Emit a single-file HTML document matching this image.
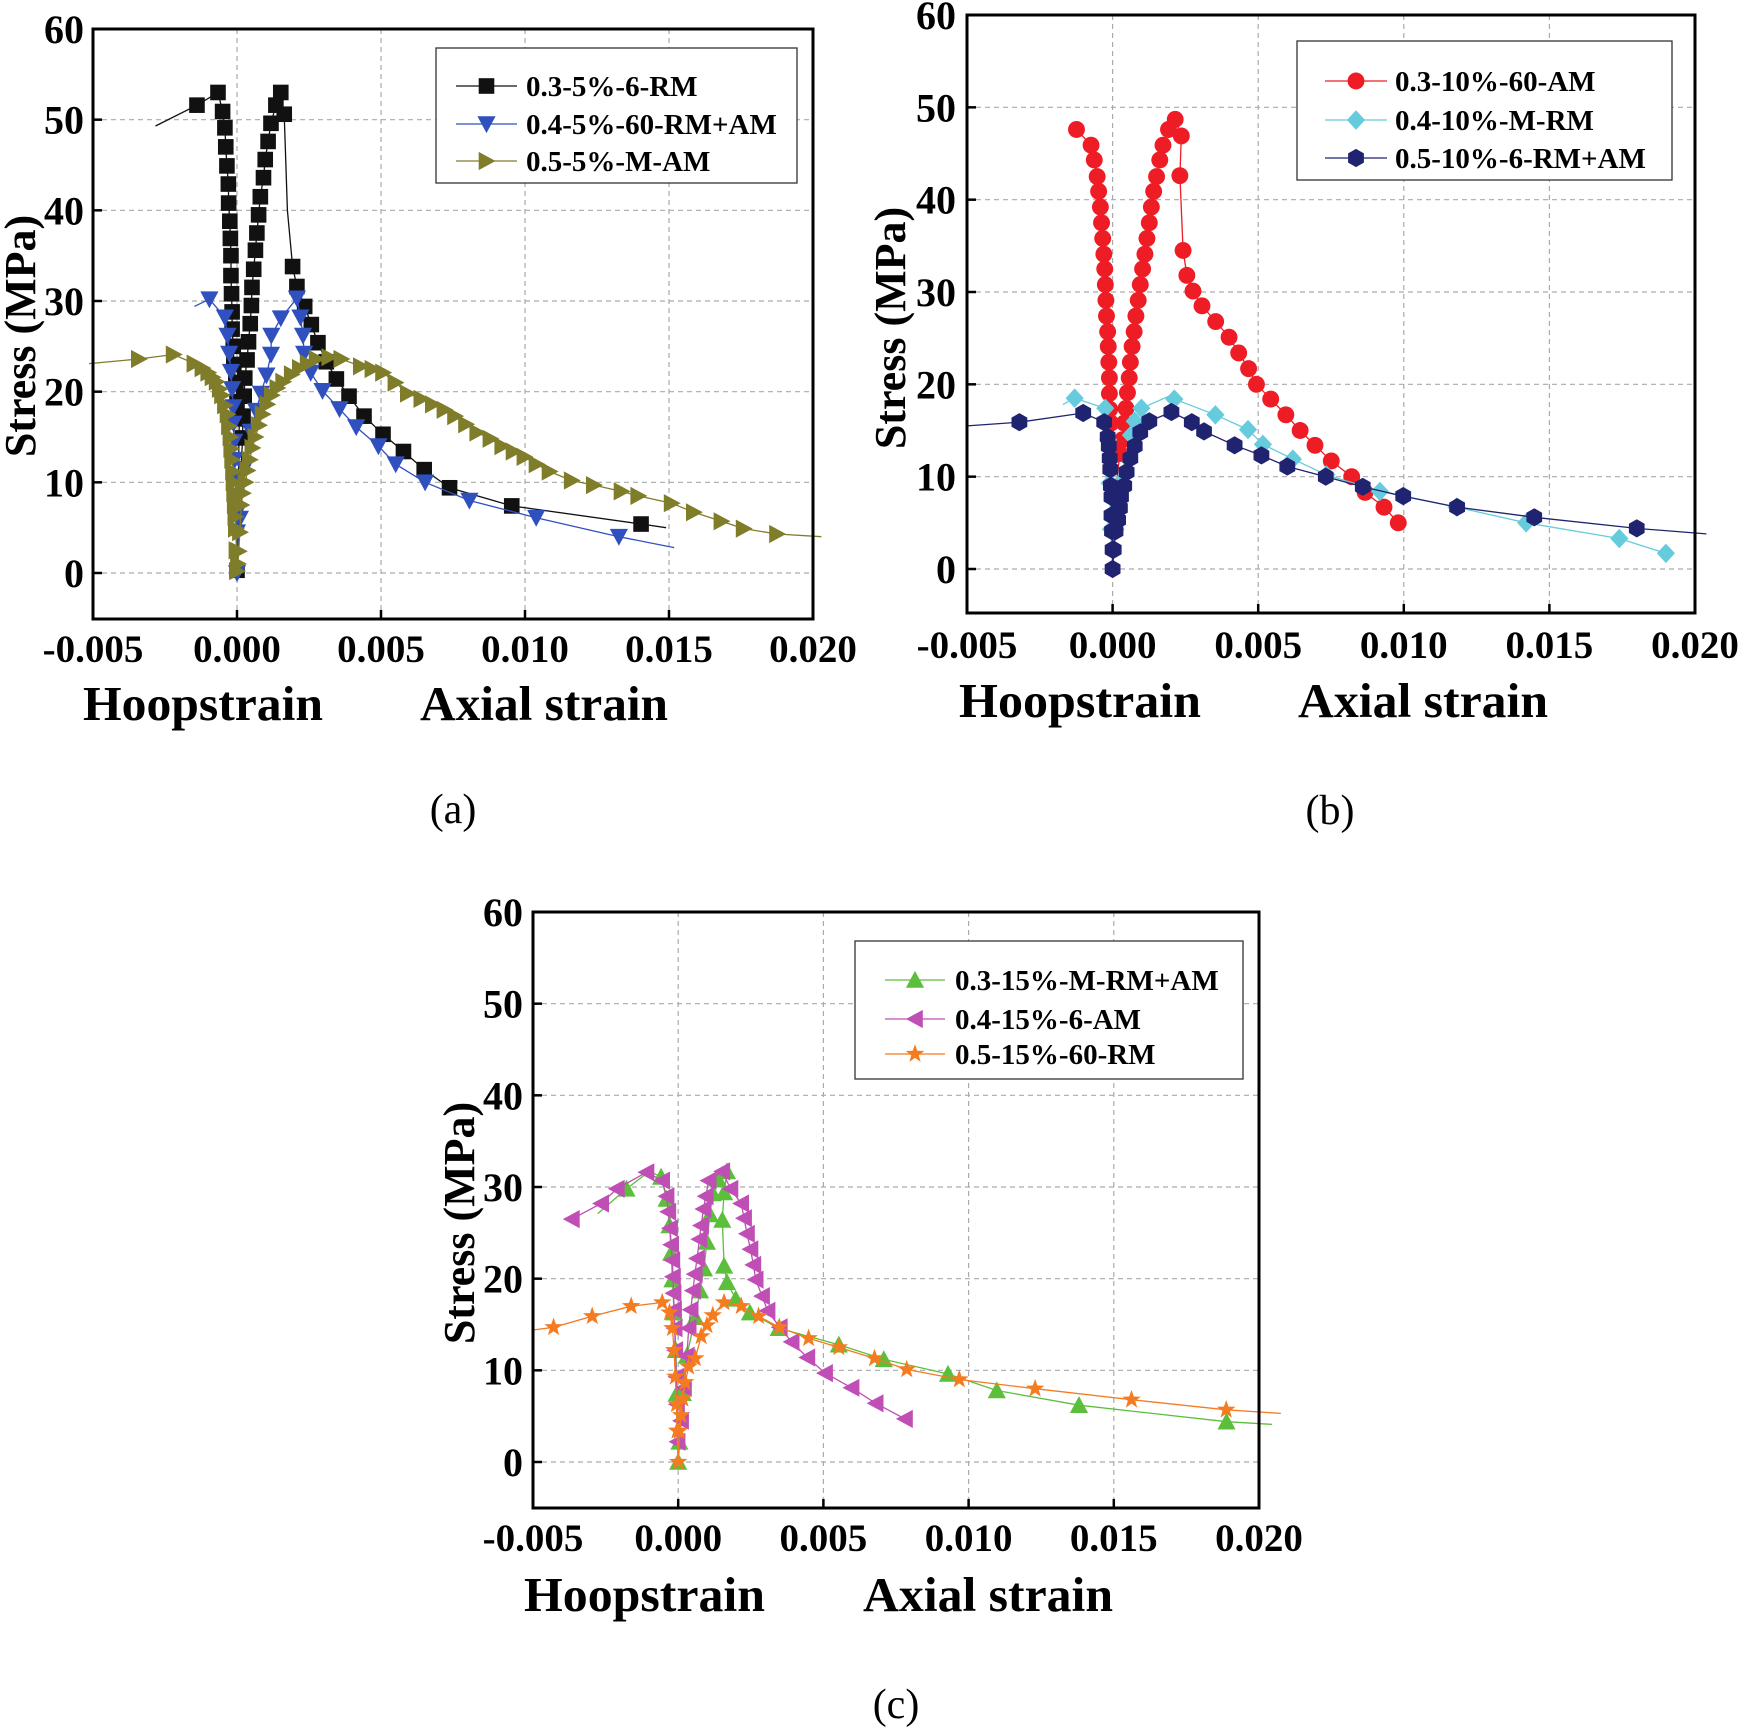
<!DOCTYPE html>
<html><head><meta charset="utf-8">
<style>
html,body{margin:0;padding:0;background:#fff;}
svg{display:block;font-family:"Liberation Serif",serif;}
</style></head>
<body>
<svg id="fig" width="1742" height="1727" viewBox="0 0 1742 1727" xmlns="http://www.w3.org/2000/svg"></svg>
<script>
// strain values are in units of 0.001 (hoop strain negative), stress in MPa
const xTicks = [-5, 0, 5, 10, 15, 20];
const xTickLabels = ["-0.005", "0.000", "0.005", "0.010", "0.015", "0.020"];
const yTicks = [0, 10, 20, 30, 40, 50, 60];
const yTickLabels = ["0", "10", "20", "30", "40", "50", "60"];

// Panel (a)
const a1Name = "0.3-5%-6-RM";
const a1X = [-2.83,-1.39,-0.66,-0.50,-0.42,-0.39,-0.35,-0.30,-0.29,-0.25,-0.23,-0.21,-0.21,-0.19,-0.17,-0.17,-0.13,-0.11,-0.04,0.0,0.08,0.0,0.19,0.21,0.25,0.27,0.35,0.40,0.46,0.50,0.52,0.58,0.64,0.69,0.75,0.81,0.92,0.98,1.08,1.18,1.35,1.52,1.64,1.75,1.93,2.08,2.35,2.58,2.81,3.10,3.45,3.89,4.41,5.07,5.78,6.50,7.38,9.54,14.03,14.90];
const a1Y = [49.3,51.6,53.0,50.9,49.1,47.0,44.9,42.9,40.8,38.8,36.9,35.0,32.8,30.8,28.8,26.9,25.0,23.0,21.0,18.9,17.0,0.3,14.9,17.3,19.5,21.5,23.5,25.5,27.5,29.5,31.5,33.5,35.6,37.5,39.5,41.5,43.6,45.6,47.6,49.6,51.6,53.0,50.6,40.0,33.8,31.6,29.4,27.4,25.4,23.3,21.4,19.5,17.3,15.3,13.4,11.4,9.4,7.4,5.4,5.0];
const a1M = [0,1,1,1,1,1,1,1,1,1,1,1,1,1,1,1,1,1,1,1,1,1,1,1,1,1,1,1,1,1,1,1,1,1,1,1,1,1,1,1,1,1,1,0,1,1,1,1,1,1,1,1,1,1,1,1,1,1,1,0];

const a2Name = "0.4-5%-60-RM+AM";
const a2X = [-1.48,-0.96,-0.42,-0.33,-0.27,-0.21,-0.17,-0.13,-0.12,-0.10,-0.08,-0.06,-0.04,-0.02,0.0,0.0,0.10,0.25,0.48,0.66,0.83,1.02,1.18,1.19,1.52,2.08,2.20,2.29,2.33,2.56,2.97,3.56,4.14,4.91,5.51,6.53,8.07,10.39,13.26,15.18];
const a2Y = [29.4,30.2,28.2,26.2,24.2,22.2,20.3,18.3,16.5,14.5,12.5,10.5,8.5,6.5,4.5,0.0,6.0,11.5,15.6,17.9,19.8,21.8,24.1,26.2,28.1,30.3,28.2,26.2,24.2,22.1,20.1,18.1,16.1,14.0,12.0,10.0,8.0,6.1,4.0,2.8];
const a2M = [0,1,1,1,1,1,1,1,1,1,1,1,1,1,1,1,1,1,1,1,1,1,1,1,1,1,1,1,1,1,1,1,1,1,1,1,1,1,1,0];

const a3Name = "0.5-5%-M-AM";
const a3X = [-5.14,-3.41,-2.20,-1.48,-1.20,-1.00,-0.85,-0.71,-0.60,-0.52,-0.42,-0.33,-0.28,-0.23,-0.20,-0.17,-0.14,-0.12,-0.10,-0.08,-0.06,-0.04,-0.02,0.0,0.03,0.06,0.10,0.15,0.20,0.29,0.36,0.44,0.53,0.64,0.76,0.89,1.05,1.21,1.40,1.60,1.90,2.18,2.45,2.76,3.20,3.62,4.30,4.70,5.07,5.50,5.93,6.40,6.80,7.20,7.57,7.95,8.34,8.80,9.21,9.60,9.98,10.40,10.85,11.62,12.39,13.35,13.93,15.09,15.86,16.82,17.59,18.75,20.29];
const a3Y = [23.1,23.6,24.1,23.1,22.6,22.1,21.6,21.1,20.3,19.6,18.5,17.5,16.2,15.0,13.7,12.5,11.2,10.0,8.8,7.5,6.2,4.9,2.5,0.2,1.0,2.4,4.5,7.5,8.8,10.0,11.3,12.5,13.8,15.0,16.3,17.5,18.6,19.6,20.4,21.1,21.9,22.6,23.1,23.6,23.8,23.6,22.8,22.5,22.1,21.0,19.8,19.2,18.6,18.0,17.3,16.4,15.5,14.8,14.0,13.4,12.8,12.0,11.2,10.2,9.7,9.0,8.5,7.7,6.7,5.7,4.9,4.3,4.0];
const a3M = [0,1,1,1,1,1,1,1,1,1,1,1,1,1,1,1,1,1,1,1,1,1,1,1,1,1,1,1,1,1,1,1,1,1,1,1,1,1,1,1,1,1,1,1,1,1,1,1,1,1,1,1,1,1,1,1,1,1,1,1,1,1,1,1,1,1,1,1,1,1,1,1,0];

// Panel (b)
const b1Name = "0.3-10%-60-AM";
const b1X = [-1.24,-0.74,-0.63,-0.53,-0.48,-0.42,-0.38,-0.34,-0.30,-0.27,-0.25,-0.23,-0.21,-0.17,-0.15,-0.13,-0.11,-0.11,-0.10,-0.06,0.0,0.13,0.25,0.34,0.40,0.46,0.51,0.57,0.61,0.67,0.74,0.80,0.88,0.95,1.03,1.11,1.18,1.26,1.33,1.41,1.51,1.62,1.73,1.92,2.15,2.36,2.31,2.42,2.55,2.76,3.07,3.54,4.00,4.33,4.67,4.94,5.43,5.95,6.44,6.95,7.51,8.21,8.67,9.32,9.81];
const b1Y = [47.6,45.9,44.3,42.5,40.9,39.2,37.5,35.8,34.1,32.5,30.8,29.1,27.4,25.7,24.1,22.4,20.7,19.0,17.3,15.8,0,9.3,12.5,14.0,15.8,17.4,19.1,20.7,22.4,24.1,25.7,27.4,29.1,30.8,32.5,34.1,35.8,37.5,39.2,40.9,42.5,44.3,45.9,47.6,48.7,46.9,42.6,34.5,31.8,30.1,28.5,26.8,25.1,23.4,21.7,20.0,18.4,16.7,15.0,13.4,11.7,10.0,8.3,6.7,5.0];
const b1M = [1,1,1,1,1,1,1,1,1,1,1,1,1,1,1,1,1,1,1,1,0,0,1,1,1,1,1,1,1,1,1,1,1,1,1,1,1,1,1,1,1,1,1,1,1,1,1,1,1,1,1,1,1,1,1,1,1,1,1,1,1,1,1,1,1];

const b2Name = "0.4-10%-M-RM";
const b2X = [-1.71,-1.30,-0.25,-0.15,-0.10,-0.06,0.0,0.10,0.25,0.63,0.76,0.99,2.00,2.12,3.53,4.65,5.16,6.19,7.34,9.18,11.81,14.20,17.40,19.00];
const b2Y = [17.8,18.5,17.4,14.0,9.3,4.3,0.0,4.3,9.3,14.5,16.0,17.4,18.8,18.4,16.7,15.1,13.5,11.9,10.2,8.4,6.7,5.0,3.3,1.7];
const b2M = [0,1,1,1,1,1,0,1,1,1,1,1,0,1,1,1,1,1,1,1,1,1,1,1];

const b3Name = "0.5-10%-6-RM+AM";
const b3X = [-5.0,-3.20,-1.01,-0.29,-0.17,-0.13,-0.10,-0.08,-0.06,-0.04,-0.04,-0.02,0.0,0.0,0.04,0.10,0.19,0.25,0.29,0.40,0.48,0.61,0.76,0.95,1.26,2.02,2.72,3.14,4.19,5.11,6.00,7.32,8.59,9.98,11.83,14.48,18.00,20.39];
const b3Y = [15.5,15.9,16.9,15.9,14.3,13.3,12.0,10.8,9.0,7.8,5.8,4.1,2.1,0.0,2.1,4.1,5.3,6.6,7.8,9.0,10.5,12.0,13.3,14.8,16.0,17.0,15.9,14.9,13.4,12.3,11.1,10.0,8.9,7.9,6.7,5.6,4.4,3.8];
const b3M = [0,1,1,1,1,1,1,1,1,1,1,1,1,1,1,1,1,1,1,1,1,1,1,1,1,1,1,1,1,1,1,1,1,1,1,1,1,0];

// Panel (c)
const c1Name = "0.3-15%-M-RM+AM";
const c1X = [-2.77,-1.78,-0.99,-0.59,-0.40,-0.30,-0.24,-0.20,-0.14,-0.08,-0.04,0.0,0.04,0.16,0.30,0.59,0.75,0.89,0.99,1.09,1.19,1.38,1.68,1.58,1.52,1.58,1.68,1.98,2.47,3.46,5.53,7.08,9.29,10.97,13.80,18.88,20.45];
const c1Y = [27.1,29.8,31.7,31.1,28.7,25.8,22.8,19.9,16.3,12.2,7.5,0.0,2.2,7.5,11.6,15.8,18.7,21.1,24.0,27.0,29.3,30.8,31.7,29.4,26.4,21.4,19.6,17.8,16.3,14.6,12.8,11.2,9.6,7.8,6.2,4.4,4.1];
const c1M = [0,1,0,1,1,1,1,1,1,1,1,1,1,1,1,1,1,1,1,1,1,1,1,1,1,1,1,1,1,1,1,1,1,1,1,1,0];

const c2Name = "0.4-15%-6-AM";
const c2X = [-3.66,-2.65,-2.11,-1.09,-0.55,-0.40,-0.34,-0.28,-0.24,-0.20,-0.18,-0.16,-0.14,-0.12,-0.10,-0.06,-0.04,-0.02,0.0,0.10,0.20,0.30,0.36,0.43,0.51,0.57,0.65,0.73,0.79,0.87,0.95,1.05,1.52,1.80,2.17,2.27,2.37,2.49,2.59,2.67,2.89,3.08,3.50,3.91,4.45,5.06,5.97,6.80,7.81,8.04];
const c2Y = [26.5,28.2,29.8,31.6,30.7,29.0,27.3,25.5,23.7,22.0,20.2,18.4,16.6,14.6,12.2,9.3,6.3,2.2,0.0,4.5,8.1,11.6,14.6,16.6,18.7,20.5,22.2,24.3,25.8,27.6,29.0,30.7,31.7,29.8,28.2,26.6,24.9,23.2,21.5,19.9,18.1,16.5,14.7,13.1,11.4,9.7,8.1,6.4,4.7,4.4];
const c2M = [1,1,1,1,1,1,1,1,1,1,1,1,1,1,1,1,1,1,0,1,1,1,1,1,1,1,1,1,1,1,1,1,1,1,1,1,1,1,1,1,1,1,1,1,1,1,1,1,1,0];

const c3Name = "0.5-15%-60-RM";
const c3X = [-5.0,-4.29,-2.96,-1.62,-0.55,-0.30,-0.20,-0.14,-0.10,-0.06,-0.04,0.0,0.04,0.10,0.16,0.24,0.36,0.59,0.79,0.99,1.19,1.58,2.17,2.77,3.48,4.49,5.53,6.76,7.87,9.68,12.29,15.61,18.87,20.75];
const c3Y = [14.4,14.7,15.9,17.0,17.4,16.3,14.6,12.2,9.3,6.3,3.4,0.0,3.4,5.1,6.9,8.7,10.4,11.3,13.7,14.9,16.0,17.4,17.0,15.9,14.7,13.5,12.5,11.3,10.1,9.0,8.0,6.8,5.7,5.3];
const c3M = [0,1,1,1,1,1,1,1,1,1,1,1,1,1,1,1,1,1,1,1,1,1,1,1,1,1,1,1,1,1,1,1,1,0];

const NS = "http://www.w3.org/2000/svg";
const svg = document.getElementById("fig");
function mk(tag, parent) { const e = document.createElementNS(NS, tag); parent.appendChild(e); return e; }

const K = 1.3; // marker scale
function markerEl(g, shape, cx, cy, color) {
  let e;
  if (shape === "square") {
    e = mk("rect", g); e.setAttribute("x", cx - 6 * K); e.setAttribute("y", cy - 6 * K); e.setAttribute("width", 12 * K); e.setAttribute("height", 12 * K);
  } else if (shape === "circle") {
    e = mk("circle", g); e.setAttribute("cx", cx); e.setAttribute("cy", cy); e.setAttribute("r", 6.5 * K);
  } else {
    let pts = [];
    if (shape === "tdown") pts = [[-7,-6],[7,-6],[0,7]];
    else if (shape === "tup") pts = [[-7,6],[7,6],[0,-7]];
    else if (shape === "tright") pts = [[-6,-7],[-6,7],[7,0]];
    else if (shape === "tleft") pts = [[6,-7],[6,7],[-7,0]];
    else if (shape === "diamond") pts = [[0,-7.5],[7,0],[0,7.5],[-7,0]];
    else if (shape === "hex") { for (let k = 0; k < 6; k++) { const a = Math.PI / 6 + k * Math.PI / 3; pts.push([7 * Math.cos(a), 7 * Math.sin(a)]); } }
    else if (shape === "star") { for (let k = 0; k < 10; k++) { const a = -Math.PI / 2 + k * Math.PI / 5; const r = k % 2 ? 3 : 7.5; pts.push([r * Math.cos(a), r * Math.sin(a)]); } }
    e = mk("polygon", g);
    e.setAttribute("points", pts.map(p => (cx + K * p[0]).toFixed(1) + "," + (cy + K * p[1]).toFixed(1)).join(" "));
  }
  e.setAttribute("fill", color);
  return e;
}

function panel(cfg) {
  const { id, L, R, T, B, y0, ylab, xlabY, titleX, titleY, hoop, axial, legend, caption } = cfg;
  const g = mk("g", svg);
  
  
  const ymax = 60;
  const pyPer = (y0 - T) / 60;
  const xs = v => L + (v - xTicks[0]) / (xTicks[xTicks.length - 1] - xTicks[0]) * (R - L);
  const ys = v => y0 - v * pyPer;

  const grid = mk("g", g);
  
  
  xTicks.forEach(t => {
    if (t === xTicks[0] || t === xTicks[xTicks.length - 1]) return;
    const l = mk("line", grid);
    l.setAttribute("x1", xs(t)); l.setAttribute("x2", xs(t)); l.setAttribute("y1", T); l.setAttribute("y2", B);
    l.setAttribute("stroke", "#aaa"); l.setAttribute("stroke-width", 1.2); l.setAttribute("stroke-dasharray", "5 4");
  });
  yTicks.forEach(t => {
    if (t === ymax) return;
    const l = mk("line", grid);
    l.setAttribute("x1", L); l.setAttribute("x2", R); l.setAttribute("y1", ys(t)); l.setAttribute("y2", ys(t));
    l.setAttribute("stroke", "#aaa"); l.setAttribute("stroke-width", 1.2); l.setAttribute("stroke-dasharray", "5 4");
  });

  cfg.series.forEach(sr => {
    const sg = mk("g", g);
    
    
    const path = mk("polyline", sg);
    
    
    path.setAttribute("points", sr.x.map((v, i) => xs(v).toFixed(1) + "," + ys(sr.y[i]).toFixed(1)).join(" "));
    path.setAttribute("fill", "none"); path.setAttribute("stroke", sr.color); path.setAttribute("stroke-width", 1.3);
    sr.x.forEach((v, i) => {
      if (!sr.m[i]) return;
      const e = markerEl(sg, sr.shape, xs(v), ys(sr.y[i]), sr.color);
      
      
    });
  });

  const fr = mk("rect", g);
  
  
  fr.setAttribute("x", L); fr.setAttribute("y", T); fr.setAttribute("width", R - L); fr.setAttribute("height", B - T);
  fr.setAttribute("fill", "none"); fr.setAttribute("stroke", "#000"); fr.setAttribute("stroke-width", 3);

  xTicks.forEach((t, i) => {
    const tk = mk("line", g);
    tk.setAttribute("x1", xs(t)); tk.setAttribute("x2", xs(t)); tk.setAttribute("y1", B); tk.setAttribute("y2", B - 9);
    tk.setAttribute("stroke", "#000"); tk.setAttribute("stroke-width", 2.5);
    const tx = mk("text", g);
    
    
    tx.setAttribute("x", xs(t)); tx.setAttribute("y", xlabY);
    tx.setAttribute("text-anchor", "middle"); tx.setAttribute("font-size", 39); tx.setAttribute("font-weight", "bold");
    tx.textContent = xTickLabels[i];
  });
  yTicks.forEach((t, i) => {
    const tk = mk("line", g);
    tk.setAttribute("x1", L); tk.setAttribute("x2", L + 9); tk.setAttribute("y1", ys(t)); tk.setAttribute("y2", ys(t));
    tk.setAttribute("stroke", "#000"); tk.setAttribute("stroke-width", 2.5);
    const tx = mk("text", g);
    
    
    tx.setAttribute("x", ylab); tx.setAttribute("y", ys(t) + 14);
    tx.setAttribute("text-anchor", "end"); tx.setAttribute("font-size", 40); tx.setAttribute("font-weight", "bold");
    tx.textContent = yTickLabels[i];
  });

  const yt = mk("text", g);
  
  
  yt.setAttribute("transform", "translate(" + (titleX + 15) + "," + titleY + ") rotate(-90)");
  yt.setAttribute("text-anchor", "middle"); yt.setAttribute("font-size", 44); yt.setAttribute("font-weight", "bold");
  yt.textContent = "Stress (MPa)";

  [["hoop-strain-label", "Hoopstrain", hoop], ["axial-strain-label", "Axial strain", axial]].forEach(([nm, txt, p]) => {
    const t = mk("text", g);
    
    
    t.setAttribute("x", p[0]); t.setAttribute("y", p[1] + 17);
    t.setAttribute("font-size", 49); t.setAttribute("font-weight", "bold");
    t.setAttribute("textLength", p[2]); t.setAttribute("lengthAdjust", "spacingAndGlyphs");
    t.textContent = txt;
  });

  const lg = mk("g", g);
  
  
  const lb = mk("rect", lg);
  lb.setAttribute("x", legend.x); lb.setAttribute("y", legend.y); lb.setAttribute("width", legend.w); lb.setAttribute("height", legend.h);
  lb.setAttribute("fill", "#fff"); lb.setAttribute("stroke", "#333"); lb.setAttribute("stroke-width", 1.3);
  cfg.series.forEach((sr, i) => {
    const ey = legend.rows[i];
    const eg = mk("g", lg);
    
    
    const l = mk("line", eg);
    l.setAttribute("x1", legend.lx1); l.setAttribute("x2", legend.lx2); l.setAttribute("y1", ey); l.setAttribute("y2", ey);
    l.setAttribute("stroke", sr.color); l.setAttribute("stroke-width", 1.3);
    markerEl(eg, sr.shape, (legend.lx1 + legend.lx2) / 2, ey, sr.color);
    const t = mk("text", eg);
    t.setAttribute("x", legend.tx); t.setAttribute("y", ey + 10);
    t.setAttribute("font-size", 29); t.setAttribute("font-weight", "bold");
    t.textContent = sr.name;
  });

  const cap = mk("text", g);
  
  
  cap.setAttribute("x", caption[0]); cap.setAttribute("y", caption[1] + 14);
  cap.setAttribute("text-anchor", "middle"); cap.setAttribute("font-size", 42);
  cap.textContent = "(" + id + ")";
}

panel({ id: "a", L: 93, R: 813, T: 29, B: 619, y0: 573, ylab: 84, xlabY: 662, titleX: 20, titleY: 336,
  hoop: [83, 703, 240], axial: [420, 703, 248], caption: [453, 809],
  legend: { x: 436, y: 48, w: 361, h: 135, rows: [86, 124, 161], lx1: 456, lx2: 517, tx: 526 },
  series: [
    { name: a1Name, x: a1X, y: a1Y, m: a1M, color: "#111", shape: "square" },
    { name: a2Name, x: a2X, y: a2Y, m: a2M, color: "#3050c0", shape: "tdown" },
    { name: a3Name, x: a3X, y: a3Y, m: a3M, color: "#7f7d2a", shape: "tright" }
  ] });

panel({ id: "b", L: 967, R: 1695, T: 15, B: 613, y0: 569, ylab: 956, xlabY: 658, titleX: 890, titleY: 328,
  hoop: [959, 700, 242], axial: [1298, 700, 250], caption: [1330, 810],
  legend: { x: 1297, y: 41, w: 375, h: 139, rows: [81, 120, 158], lx1: 1325, lx2: 1387, tx: 1395 },
  series: [
    { name: b1Name, x: b1X, y: b1Y, m: b1M, color: "#ee1c25", shape: "circle" },
    { name: b2Name, x: b2X, y: b2Y, m: b2M, color: "#66cbdc", shape: "diamond" },
    { name: b3Name, x: b3X, y: b3Y, m: b3M, color: "#1f2370", shape: "hex" }
  ] });

panel({ id: "c", L: 533, R: 1259, T: 912, B: 1508, y0: 1462, ylab: 523, xlabY: 1551, titleX: 459, titleY: 1223,
  hoop: [524, 1594, 241], axial: [863, 1594, 250], caption: [896, 1704],
  legend: { x: 855, y: 941, w: 388, h: 138, rows: [980, 1019, 1054], lx1: 885, lx2: 945, tx: 955 },
  series: [
    { name: c1Name, x: c1X, y: c1Y, m: c1M, color: "#5cbf3c", shape: "tup" },
    { name: c2Name, x: c2X, y: c2Y, m: c2M, color: "#bf4fb5", shape: "tleft" },
    { name: c3Name, x: c3X, y: c3Y, m: c3M, color: "#f47b20", shape: "star" }
  ] });
</script>
</body></html>
